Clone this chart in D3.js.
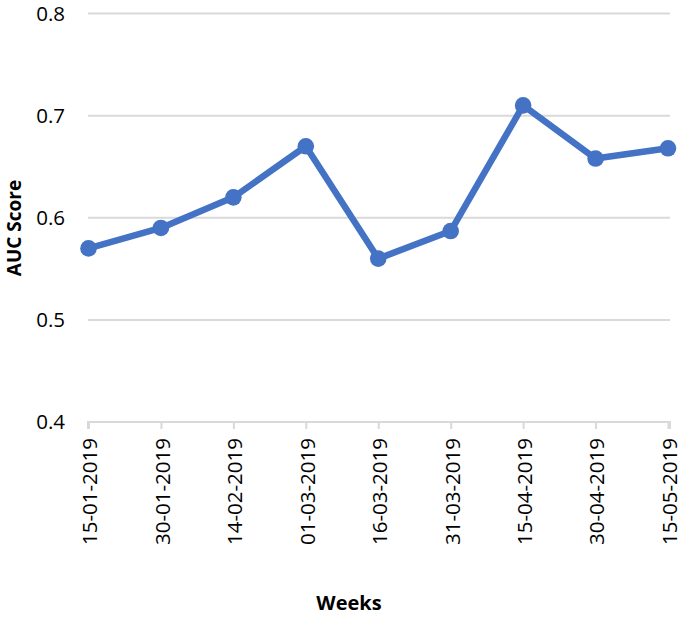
<!DOCTYPE html>
<html>
<head>
<meta charset="utf-8">
<script src="https://cdn.jsdelivr.net/npm/d3@7"></script>
<style>
  html, body { margin: 0; padding: 0; background: #fff; }
  svg { display: block; }
  text { font-family: "Open Sans", "Noto Sans", sans-serif; }
</style>
</head>
<body>
<script>
const weeks = ["15-01-2019","30-01-2019","14-02-2019","01-03-2019","16-03-2019","31-03-2019","15-04-2019","30-04-2019","15-05-2019"];
const auc = [0.57, 0.59, 0.62, 0.67, 0.56, 0.587, 0.71, 0.658, 0.668];
const yTicks = [0.4, 0.5, 0.6, 0.7, 0.8];

const W = 685, H = 617;
const svg = d3.select("body").append("svg").attr("width", W).attr("height", H);

const x = d3.scalePoint().domain(weeks).range([88.5, 668]);
const y = d3.scaleLinear().domain([0.4, 0.8]).range([422, 13.5]);

// gridlines
svg.append("g").selectAll("line").data(yTicks.filter(d => d > 0.4)).join("line")
  .attr("x1", 88).attr("x2", 670)
  .attr("y1", d => y(d)).attr("y2", d => y(d))
  .attr("stroke", "#d9d9d9").attr("stroke-width", 2);

// y labels
svg.append("g").selectAll("text").data(yTicks).join("text")
  .attr("x", 65).attr("y", d => y(d))
  .attr("dy", "0.36em")
  .attr("text-anchor", "end")
  .attr("font-size", 20.5)
  .attr("fill", "#000")
  .text(d => d3.format(".1f")(d));

// x axis
const xAxis = d3.axisBottom(x).tickSize(7).tickPadding(6);
const gx = svg.append("g").attr("transform", `translate(0,${y(0.4)})`).call(xAxis);
gx.select(".domain").attr("stroke", "#d9d9d9").attr("stroke-width", 2)
  .attr("d", `M88,7V0H670V7`);
gx.selectAll(".tick line").attr("stroke", "#d9d9d9").attr("stroke-width", 2);
gx.selectAll(".tick text")
  .attr("font-family", "'Open Sans', sans-serif")
  .attr("font-size", 20.5)
  .attr("fill", "#000")
  .attr("transform", "rotate(-90)")
  .attr("text-anchor", "end")
  .attr("x", -16)
  .attr("y", 1)
  .attr("dy", "0.36em");

// line
const line = d3.line().x((d, i) => x(weeks[i])).y(d => y(d));
svg.append("path").datum(auc)
  .attr("d", line)
  .attr("fill", "none")
  .attr("stroke", "#4472C4")
  .attr("stroke-width", 6.5)
  .attr("stroke-linejoin", "round");

svg.append("g").selectAll("circle").data(auc).join("circle")
  .attr("cx", (d, i) => x(weeks[i]))
  .attr("cy", d => y(d))
  .attr("r", 8.3)
  .attr("fill", "#4472C4");

// axis titles
svg.append("text")
  .attr("x", 349).attr("y", 610)
  .attr("text-anchor", "middle")
  .attr("font-size", 20).attr("font-weight", "bold")
  .text("Weeks");

svg.append("text")
  .attr("transform", "translate(21,228) rotate(-90)")
  .attr("text-anchor", "middle")
  .attr("font-size", 19).attr("font-weight", "bold")
  .text("AUC Score");
</script>
</body>
</html>
